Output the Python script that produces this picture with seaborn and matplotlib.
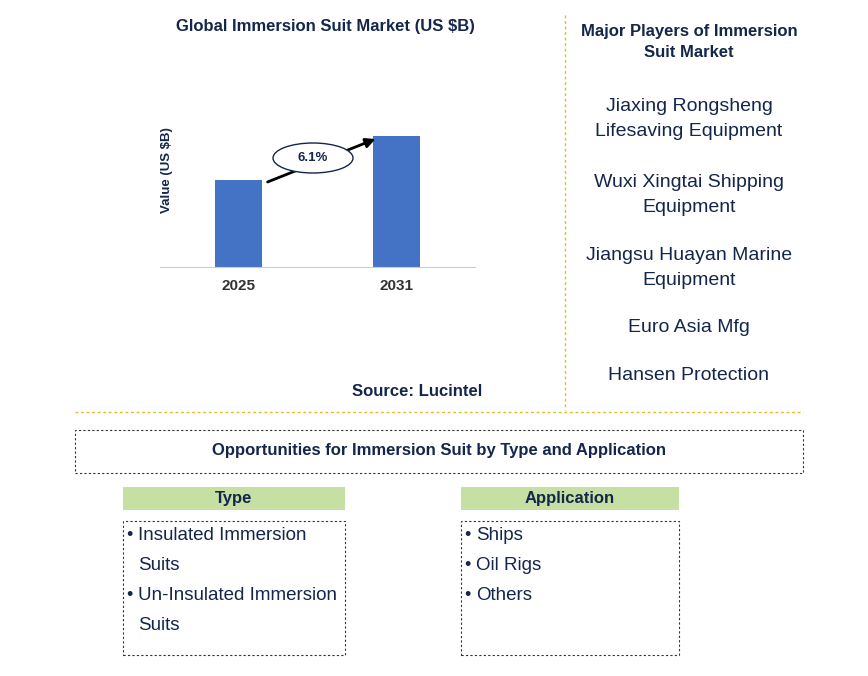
import matplotlib
matplotlib.use("Agg")
import matplotlib.pyplot as plt
import seaborn as sns
import pandas as pd
from matplotlib.patches import Rectangle, Ellipse

years = ["2025", "2031"]
values = [1.0, 1.51]
cagr = "6.1%"
players = ["Jiaxing Rongsheng\nLifesaving Equipment", "Wuxi Xingtai Shipping\nEquipment",
           "Jiangsu Huayan Marine\nEquipment", "Euro Asia Mfg", "Hansen Protection"]
types = ["Insulated Immersion", "Suits", "Un-Insulated Immersion", "Suits"]
apps = ["Ships", "Oil Rigs", "Others"]

plt.rcParams["font.family"] = "Liberation Sans"
W, H = 868, 676
NAVY = "#14264b"
fig = plt.figure(figsize=(W / 100, H / 100), dpi=100)

def fx(x): return x / W
def fy(y): return 1 - y / H

ax = fig.add_axes([fx(160), fy(267), 315 / W, 152 / H])
df = pd.DataFrame({"year": years, "value": values})
sns.barplot(data=df, x="year", y="value", color="#4472c4", width=0.3, ax=ax, saturation=1)
ax.set_xlim(-0.5, 1.5)
ax.set_ylim(0, 1.75)
ax.set_yticks([])
ax.set_xlabel("")
ax.set_ylabel("Value (US $B)", color=NAVY, fontsize=9.5, fontweight="bold")
ax.yaxis.set_label_coords(0.04, 0.64)
for s in ["top", "right", "left"]:
    ax.spines[s].set_visible(False)
ax.spines["bottom"].set_color("#cccccc")
ax.tick_params(axis="x", length=0, labelsize=11, colors="#333333", pad=9)
for t in ax.get_xticklabels():
    t.set_fontweight("bold")

# growth arrow
fig.add_artist(matplotlib.patches.FancyArrowPatch((fx(265), fy(183)), (fx(378), fy(138)),
               transform=fig.transFigure, arrowstyle="-|>", mutation_scale=14, lw=2, color="black"))
fig.add_artist(Ellipse((fx(313), fy(158)), 80 / W, 30 / H, transform=fig.transFigure,
               facecolor="white", edgecolor=NAVY, lw=1))
fig.text(fx(313), fy(158), cagr, ha="center", va="center", fontsize=9.5, fontweight="bold", color=NAVY)

fig.text(fx(325), fy(26), "Global Immersion Suit Market (US $B)", ha="center", va="center",
         fontsize=12, fontweight="bold", color=NAVY)
fig.text(fx(417), fy(392), "Source: Lucintel", ha="center", va="center",
         fontsize=12, fontweight="bold", color=NAVY)

fig.text(fx(689), fy(42), "Major Players of Immersion\nSuit Market", ha="center", va="center",
         fontsize=12, fontweight="bold", color=NAVY, linespacing=1.45)
for name, y in zip(players, [119, 195, 268, 328, 375]):
    fig.text(fx(689), fy(y), name, ha="center", va="center", fontsize=14, color=NAVY, linespacing=1.55)

gold = "#e8b923"
fig.add_artist(plt.Line2D([fx(565), fx(565)], [fy(15), fy(410)], transform=fig.transFigure,
               color=gold, lw=1, ls=(0, (2, 2))))
fig.add_artist(plt.Line2D([fx(75), fx(803)], [fy(412), fy(412)], transform=fig.transFigure,
               color=gold, lw=1, ls=(0, (2, 2))))

def box(x0, y0, x1, y1, **kw):
    fig.add_artist(Rectangle((fx(x0), fy(y1)), (x1 - x0) / W, (y1 - y0) / H,
                             transform=fig.transFigure, **kw))

box(75, 430, 803, 473, facecolor="none", edgecolor="#333333", lw=0.8, ls=(0, (2, 2)))
fig.text(fx(439), fy(451), "Opportunities for Immersion Suit by Type and Application",
         ha="center", va="center", fontsize=12, fontweight="bold", color=NAVY)

for x0, x1, title, items, bullets in [(123, 345, "Type", types, [True, False, True, False]),
                                       (461, 679, "Application", apps, [True, True, True])]:
    box(x0, 487, x1, 510, facecolor="#c6e0a4", edgecolor="none")
    fig.text(fx((x0 + x1) / 2), fy(498), title, ha="center", va="center",
             fontsize=12, fontweight="bold", color=NAVY)
    box(x0, 521, x1, 655, facecolor="none", edgecolor="#333333", lw=0.8, ls=(0, (2, 2)))
    for i, (it, b) in enumerate(zip(items, bullets)):
        y = 536 + 30 * i
        if b:
            fig.text(fx(x0 + 3), fy(y), "•", ha="left", va="center", fontsize=13, color=NAVY)
        fig.text(fx(x0 + 15), fy(y), it, ha="left", va="center", fontsize=13.5, color=NAVY)

fig.savefig("out.png", dpi=100)
